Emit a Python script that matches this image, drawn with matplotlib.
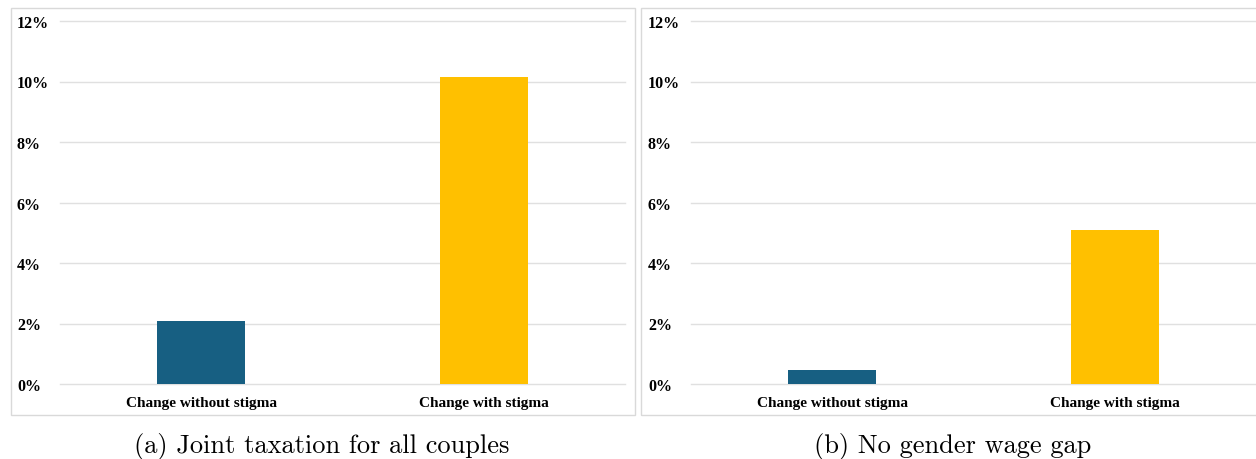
import matplotlib.pyplot as plt
from matplotlib.patches import Rectangle

categories = ["Change without stigma", "Change with stigma"]
joint_taxation = [2.07, 10.15]
no_wage_gap = [0.46, 5.09]
yticks = [0, 2, 4, 6, 8, 10, 12]
captions = ["(a) Joint taxation for all couples", "(b) No gender wage gap"]
colors = ["#175f82", "#ffc000"]

W, H = 1256, 460
fig = plt.figure(figsize=(W / 100, H / 100), dpi=100)

# panel frames (right one runs off the edge)
fig.add_artist(Rectangle((11 / W, 1 - 416 / H), 624 / W, 407 / H, transform=fig.transFigure,
                         fill=False, edgecolor="#d9d9d9", lw=1.0))
fig.add_artist(Rectangle((641 / W, 1 - 416 / H), 640 / W, 407 / H, transform=fig.transFigure,
                         fill=False, edgecolor="#d9d9d9", lw=1.0))

for i, (vals, cap, x0) in enumerate(zip([joint_taxation, no_wage_gap], captions, [60, 691])):
    ax = fig.add_axes([x0 / W, 75 / H, 565 / W, 363 / H])
    ax.bar(range(len(categories)), vals, width=0.31, color=colors, zorder=3)
    ax.set_xlim(-0.5, 1.5)
    ax.set_ylim(0, 12)
    ax.set_yticks(yticks)
    ax.set_yticklabels(["{0}%".format(t) for t in yticks], ha="left",
                       fontfamily="Liberation Serif", fontweight="bold", fontsize=11.5)
    ax.set_xticks(range(len(categories)))
    ax.set_xticklabels(categories, fontfamily="Liberation Serif", fontweight="bold", fontsize=11)
    ax.tick_params(axis="y", length=0, pad=31)
    ax.tick_params(axis="x", length=0, pad=9)
    for t in yticks:
        ax.axhline(t, color="#e0e0e0", lw=1.0, zorder=1, clip_on=False)
    for s in ax.spines.values():
        s.set_visible(False)
    ax.set_facecolor("none")
    fig.text((322 if i == 0 else 953) / W, 1 - 447 / H, cap, ha="center", va="center",
             fontfamily="cmr10", fontsize=19)

fig.savefig("out.png", dpi=100)
